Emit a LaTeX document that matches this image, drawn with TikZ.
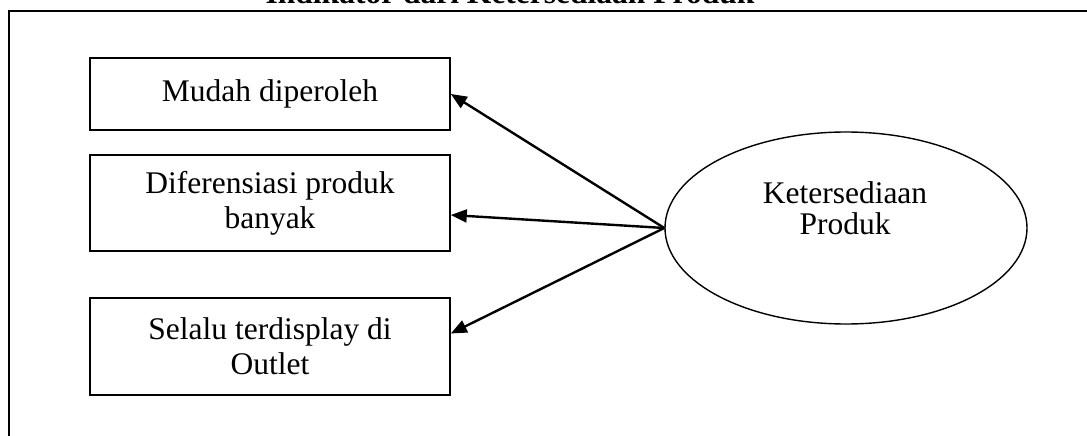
\documentclass[tikz,border=0pt]{standalone}
\usepackage{fontspec}
\setmainfont{Liberation Serif}
\usetikzlibrary{shapes.geometric,arrows.meta}

\begin{document}
\begin{tikzpicture}[x=1pt,y=-1pt,
    indikator/.style={draw,line width=1.6pt,minimum width=360pt,align=center,
        inner sep=0pt,font=\fontsize{31.5}{35}\selectfont},
    konstruk/.style={draw,ellipse,line width=1.4pt,minimum width=362pt,minimum height=192pt,inner sep=0pt},
    panah/.style={-{Triangle[length=16pt,width=13pt]},line width=2.4pt}]
\clip (0,0) rectangle (1087,436);
\useasboundingbox (0,0) rectangle (1087,436);

% Frame and heading
\draw[line width=1.6pt] (9,440) -- (9,11) -- (1090,11);
\node[anchor=base,font=\fontsize{31.5}{35}\selectfont\bfseries] (judul) at (510,4)
    {Indikator dari Ketersediaan Produk};

% Indicators
\node[indikator,minimum height=72pt] (mudah) at (270,94) {Mudah diperoleh};
\node[indikator,minimum height=96pt] (diferensiasi) at (270,203) {Diferensiasi produk\\banyak};
\node[indikator,minimum height=97pt] (display) at (270,346.5) {Selalu terdisplay di\\Outlet};

% Construct
\node[konstruk] (ketersediaan) at (846,228) {};
\node[align=center,font=\fontsize{31.5}{31}\selectfont] (ketersediaanteks) at (845,208)
    {Ketersediaan\\Produk};

% Loadings
\draw[panah] (ketersediaan.west) -- (mudah.east);
\draw[panah] (ketersediaan.west) -- ([yshift=-12pt]diferensiasi.east);
\draw[panah] (ketersediaan.west) -- ([yshift=13pt]display.east);
\end{tikzpicture}
\end{document}
